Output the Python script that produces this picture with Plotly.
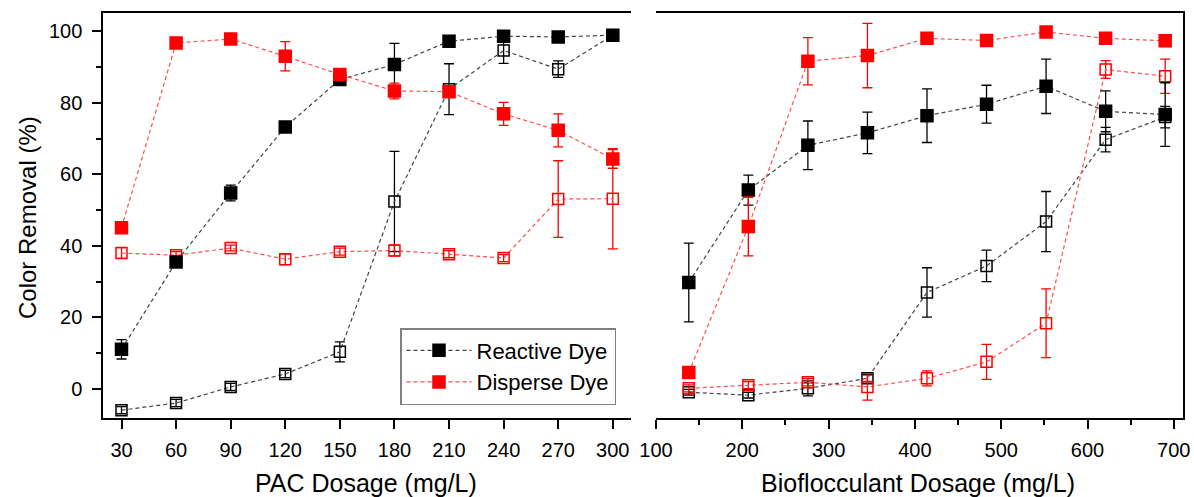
import plotly.graph_objects as go

# ---------------- data ----------------
pac_dose = [30, 60, 90, 120, 150, 180, 210, 240, 270, 300]
bio_dose = [138, 207, 276, 345, 414, 483, 552, 621, 690]

# PAC panel
pac_reactive_filled = [11.1, 35.5, 54.8, 73.2, 86.5, 90.7, 97.2, 98.6, 98.4, 98.9]
pac_reactive_filled_err = [2.7, 1.0, 2.2, 0.8, 0.8, 5.9, 0.8, 0.8, 0.8, 0.8]
pac_reactive_open = [-5.9, -3.9, 0.6, 4.2, 10.4, 52.4, 83.8, 94.6, 89.4, 98.9]
pac_reactive_open_err = [1.0, 1.0, 1.0, 1.0, 2.8, 14.0, 7.1, 3.6, 2.3, 1.0]
pac_disperse_filled = [45.1, 96.7, 97.8, 93.0, 87.9, 83.3, 83.1, 76.9, 72.3, 64.3]
pac_disperse_filled_err = [0.8, 0.8, 0.8, 4.1, 1.0, 2.2, 1.2, 3.2, 4.6, 2.6]
pac_disperse_open = [38.0, 37.4, 39.4, 36.3, 38.4, 38.7, 37.7, 36.6, 53.1, 53.2]
pac_disperse_open_err = [1.5, 1.0, 0.8, 1.5, 1.0, 1.5, 1.0, 1.0, 10.7, 14.0]

# Bioflocculant panel
bio_reactive_filled = [29.8, 55.6, 68.1, 71.6, 76.4, 79.6, 84.6, 77.6, 76.7]
bio_reactive_filled_err = [11.0, 4.2, 6.8, 5.8, 7.5, 5.3, 7.6, 5.7, 8.9]
bio_reactive_open = [-0.9, -1.7, 0.2, 3.0, 27.0, 34.4, 46.8, 69.7, 76.0]
bio_reactive_open_err = [0.8, 0.8, 2.1, 1.0, 6.9, 4.4, 8.4, 3.4, 3.0]
bio_disperse_filled = [4.6, 45.4, 91.6, 93.2, 98.0, 97.4, 99.8, 98.0, 97.3]
bio_disperse_filled_err = [0.5, 8.2, 6.6, 9.0, 0.5, 0.5, 0.5, 0.5, 0.5]
bio_disperse_open = [0.2, 1.1, 1.9, 0.6, 3.0, 7.6, 18.4, 89.3, 87.4]
bio_disperse_open_err = [1.0, 1.0, 1.0, 3.7, 2.1, 4.9, 9.6, 2.5, 4.8]

FONT = "Liberation Sans, Arial, sans-serif"
BLACK = "#000000"
RED = "#ff0000"
BLACK_LINE = "#444444"
RED_LINE = "#ff4d4d"

fig = go.Figure()


def add_series(x, y, err, color, line_color, filled, xa, ya, name, showlegend):
    fig.add_trace(go.Scatter(
        x=x, y=y, xaxis=xa, yaxis=ya, name=name, showlegend=showlegend,
        mode="lines+markers",
        line=dict(color=line_color, width=1.2, dash="4px,3px"),
        marker=dict(
            symbol="square" if filled else "square-open",
            size=12 if filled else 11,
            color=color,
            line=dict(color=color, width=1.5),
        ),
        error_y=dict(type="data", array=err, visible=True, color=color,
                     thickness=1.3, width=5),
    ))


# left panel
add_series(pac_dose, pac_reactive_open, pac_reactive_open_err, BLACK, BLACK_LINE, False, "x", "y", "Reactive Dye (open)", False)
add_series(pac_dose, pac_disperse_open, pac_disperse_open_err, RED, RED_LINE, False, "x", "y", "Disperse Dye (open)", False)
add_series(pac_dose, pac_reactive_filled, pac_reactive_filled_err, BLACK, BLACK_LINE, True, "x", "y", "Reactive Dye", True)
add_series(pac_dose, pac_disperse_filled, pac_disperse_filled_err, RED, RED_LINE, True, "x", "y", "Disperse Dye", True)
# right panel
add_series(bio_dose, bio_reactive_open, bio_reactive_open_err, BLACK, BLACK_LINE, False, "x2", "y2", "Reactive Dye (open)", False)
add_series(bio_dose, bio_disperse_open, bio_disperse_open_err, RED, RED_LINE, False, "x2", "y2", "Disperse Dye (open)", False)
add_series(bio_dose, bio_reactive_filled, bio_reactive_filled_err, BLACK, BLACK_LINE, True, "x2", "y2", "Reactive Dye", False)
add_series(bio_dose, bio_disperse_filled, bio_disperse_filled_err, RED, RED_LINE, True, "x2", "y2", "Disperse Dye", False)

W, H = 1194, 497


def px_x(p):
    return p / W


def px_y(p):
    return 1 - p / H


tickfont = dict(family=FONT, size=20, color="#000")

fig.update_layout(
    width=W, height=H,
    margin=dict(l=0, r=0, t=0, b=0),
    paper_bgcolor="white", plot_bgcolor="white",
    font=dict(family=FONT, color="#000"),
    xaxis=dict(
        domain=[px_x(103.3), px_x(631)], range=[20, 310],
        tickvals=pac_dose, ticks="outside", ticklen=9, tickwidth=2, tickcolor="#000",
        showline=True, linewidth=2, linecolor="#000", mirror=True,
        showgrid=False, zeroline=False, tickfont=tickfont, automargin=False,
        ticklabelstandoff=4,
    ),
    yaxis=dict(
        domain=[px_y(417.7), px_y(13.3)], range=[-8, 105],
        tickvals=[0, 20, 40, 60, 80, 100], ticks="outside", ticklen=9, tickwidth=2, tickcolor="#000",
        minor=dict(tickvals=[10, 30, 50, 70, 90], ticks="outside", ticklen=5, tickwidth=2, tickcolor="#000"),
        showline=True, linewidth=2, linecolor="#000", mirror=False,
        showgrid=False, zeroline=False, tickfont=tickfont, automargin=False,
        ticklabelstandoff=6,
    ),
    xaxis2=dict(
        domain=[px_x(656), px_x(1183.3)], range=[100, 711],
        tickvals=[100, 200, 300, 400, 500, 600, 700], ticks="outside", ticklen=9, tickwidth=2, tickcolor="#000",
        minor=dict(tickvals=[150, 250, 350, 450, 550, 650], ticks="outside", ticklen=5, tickwidth=2, tickcolor="#000"),
        showline=True, linewidth=2, linecolor="#000", mirror=True,
        showgrid=False, zeroline=False, tickfont=tickfont, automargin=False,
        ticklabelstandoff=4,
    ),
    yaxis2=dict(
        domain=[px_y(417.7), px_y(13.3)], range=[-8, 105], anchor="x2", side="right",
        showline=True, linewidth=2, linecolor="#000", ticks="", showticklabels=False,
        showgrid=False, zeroline=False, automargin=False,
    ),
    legend=dict(
        x=px_x(400), y=px_y(328), xanchor="left", yanchor="top",
        bordercolor="#808080", borderwidth=1.5, bgcolor="white",
        font=dict(family=FONT, size=22, color="#000"),
        itemwidth=65, tracegroupgap=0,
    ),
    annotations=[
        dict(text="Color Removal (%)", textangle=-90, x=px_x(27), y=px_y(218),
             xref="paper", yref="paper", showarrow=False,
             font=dict(family=FONT, size=24, color="#000"), xanchor="center", yanchor="middle"),
        dict(text="PAC Dosage (mg/L)", x=px_x(366), y=px_y(483),
             xref="paper", yref="paper", showarrow=False,
             font=dict(family=FONT, size=25, color="#000"), xanchor="center", yanchor="middle"),
        dict(text="Bioflocculant Dosage (mg/L)", x=px_x(918), y=px_y(483),
             xref="paper", yref="paper", showarrow=False,
             font=dict(family=FONT, size=25, color="#000"), xanchor="center", yanchor="middle"),
    ],
)

fig.write_html(
    "out.html",
    config={"displayModeBar": False},
    post_script="document.body.style.margin='0';document.body.style.overflow='hidden';",
)
